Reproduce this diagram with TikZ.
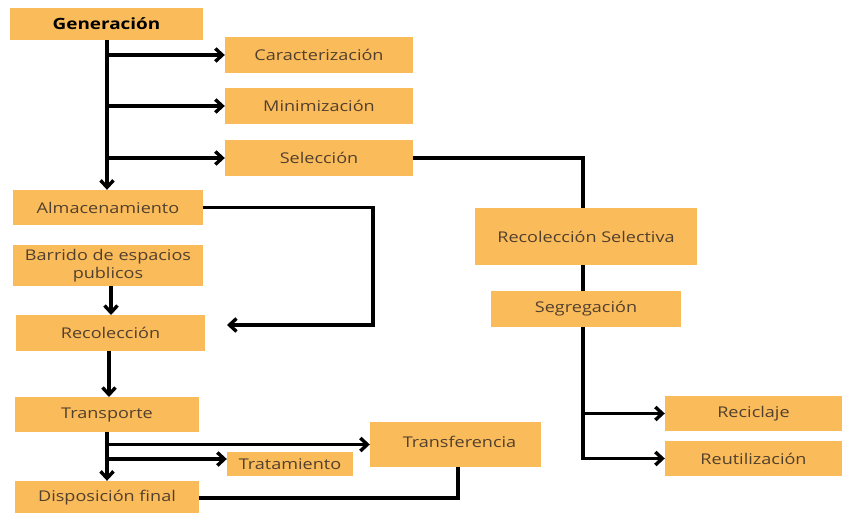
\documentclass[tikz,border=0pt]{standalone}
\usepackage{fontspec}
\setmainfont{Open Sans}[FakeStretch=1.22]
\usetikzlibrary{arrows.meta,calc}
\definecolor{boxfill}{RGB}{250,187,90}
\definecolor{boxtext}{RGB}{82,64,46}
\tikzset{
  box/.style={fill=boxfill,draw=none,inner sep=0pt,align=center,text=boxtext,font=\fontsize{14.8}{18.5}\selectfont},
  link/.style={line width=3.4pt,black},
  arr/.style={link,-{Straight Barb[length=7pt,width=13pt]}}
}
\begin{document}
\begin{tikzpicture}[x=1pt,y=-1pt]
\useasboundingbox[fill=white] (0,0) rectangle (842,513);
% boxes
\node[box,minimum width=193pt,minimum height=32pt,text=black,font=\fontsize{15.5}{18}\selectfont\bfseries] (gen) at (106.5,24) {Generación};
\node[box,minimum width=188pt,minimum height=36pt] (car) at (319,55) {Caracterización};
\node[box,minimum width=188pt,minimum height=36pt] (min) at (319,106) {Minimización};
\node[box,minimum width=188pt,minimum height=36pt] (sel) at (319,158) {Selección};
\node[box,minimum width=190pt,minimum height=35pt] (alm) at (108,207.5) {Almacenamiento};
\node[box,minimum width=190pt,minimum height=41pt] (bar) at (108,265.5) {Barrido de espacios\\publicos};
\node[box,minimum width=189pt,minimum height=36pt] (rec) at (110.5,333) {Recolección};
\node[box,minimum width=184pt,minimum height=35pt] (tra) at (107,414.5) {Transporte};
\node[box,minimum width=171pt,minimum height=45pt] (tsf) at (455.5,444.5) {\hspace*{8pt}Transferencia\rule[-6pt]{0pt}{1pt}};
\node[box,minimum width=126pt,minimum height=24pt] (trt) at (290,464) {Tratamiento};
\node[box,minimum width=184pt,minimum height=34pt] (dis) at (107,498) {Disposición final};
\node[box,minimum width=222pt,minimum height=57pt] (rs) at (586,236.5) {Recolección Selectiva};
\node[box,minimum width=190pt,minimum height=36pt] (seg) at (586,309) {Segregación};
\node[box,minimum width=177pt,minimum height=35pt] (recl) at (753.5,413.5) {Reciclaje};
\node[box,minimum width=177pt,minimum height=35pt] (reu) at (753.5,458.5) {Reutilización};
% coordinates
\coordinate (gtrunk) at (107,40);
\coordinate (recin) at (227,325);
\coordinate (almturn) at (373,207.5);
\coordinate (ttrunk) at (107,432);
\coordinate (rstrunk) at (583,327);
% Generación tree
\draw[arr] (gtrunk) -- (gtrunk |- alm.north);
\draw[arr] (gtrunk |- car.west) -- (car.west);
\draw[arr] (gtrunk |- min.west) -- (min.west);
\draw[arr] (gtrunk |- sel.west) -- (sel.west);
% Selección to Recolección Selectiva
\draw[link] (sel.east) -| (rstrunk |- rs.north);
\draw[link] (rstrunk |- rs.south) -- (rstrunk |- seg.north);
\draw[arr] (rstrunk) |- (reu.west);
\draw[arr] (rstrunk |- recl.west) -- (recl.west);
% Almacenamiento loop
\draw[arr] (alm.east) -- (almturn) |- (recin);
% chain
\draw[arr] (111,286) -- (111,315);
\draw[arr] (109,351) -- (109,397);
% Transporte tree
\draw[arr] (ttrunk) -- (ttrunk |- dis.north);
\draw[arr] (ttrunk |- tsf.west) -- (tsf.west);
\draw[arr] (107,459) -- (trt.west |- 0,459);
% Disposición to Transferencia
\draw[link] (dis.east) -| (458,467);
\end{tikzpicture}
\end{document}
